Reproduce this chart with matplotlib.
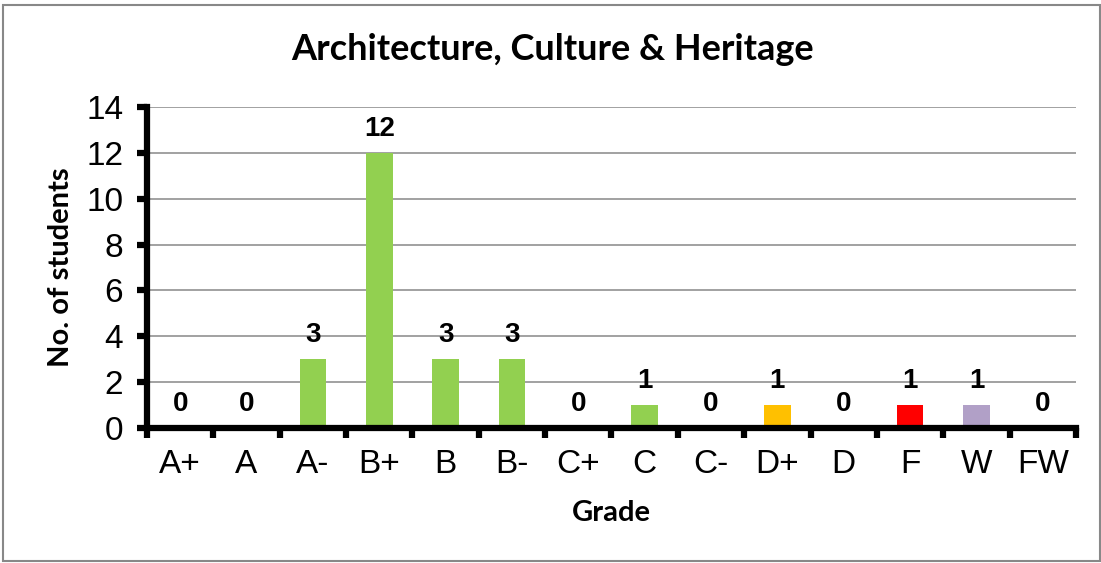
import matplotlib.pyplot as plt
from matplotlib.patches import Rectangle

grades = ["A+", "A", "A-", "B+", "B", "B-", "C+", "C", "C-", "D+", "D", "F", "W", "FW"]
students = [0, 0, 3, 12, 3, 3, 0, 1, 0, 1, 0, 1, 1, 0]
colors = ["#92D050"] * 9 + ["#FFC000", "#92D050", "#FF0000", "#B1A0C7", "#92D050"]

fig = plt.figure(figsize=(11.01, 5.63), dpi=100)
ax = fig.add_axes([0.1335, 0.2398, 0.9773 - 0.1335, 0.8099 - 0.2398])

x = list(range(len(grades)))
bars = ax.bar(x, students, width=0.4, color=colors, zorder=3)
for b, v in zip(bars, students):
    ax.annotate(str(v), (b.get_x() + b.get_width() / 2, v), xytext=(0, 8),
                textcoords="offset points", ha="center", va="bottom",
                fontsize=20, fontweight="bold", family="Liberation Sans")

ax.set_xlim(-0.5, len(grades) - 0.5)
ax.set_ylim(0, 14)
ax.set_yticks(range(0, 15, 2))
ax.set_xticks(x)
ax.set_xticklabels(grades)
ax.set_xticks([i - 0.5 for i in range(len(grades) + 1)], minor=True)
ax.tick_params(axis="x", which="major", length=0, pad=15, labelsize=24,
               labelfontfamily="Liberation Sans")
ax.tick_params(axis="x", which="minor", length=7, width=4.5, direction="out")
ax.tick_params(axis="y", length=7, width=4.5, pad=10, labelsize=24,
               labelfontfamily="Liberation Sans")

for s in ("top", "right"):
    ax.spines[s].set_visible(False)
for s in ("left", "bottom"):
    ax.spines[s].set_linewidth(4.5)
    ax.spines[s].set_zorder(4)
ax.grid(axis="y", color="#888888", linewidth=1.1, zorder=0)
ax.set_axisbelow(True)

fig.text(0.502, 0.912, "Architecture, Culture & Heritage", ha="center", va="center",
         fontsize=26, fontweight="bold", family="Lato")
fig.text(0.555, 0.088, "Grade", ha="center", va="center",
         fontsize=21, fontweight="bold", family="Lato")
fig.text(0.055, 0.525, "No. of students", ha="center", va="center", rotation=90,
         fontsize=21, fontweight="bold", family="Lato")

fig.patches.append(Rectangle((0.003, 0.004), 0.996, 0.988, transform=fig.transFigure,
                             fill=False, edgecolor="#888888", linewidth=1.5))

fig.savefig("out.png", dpi=100)
